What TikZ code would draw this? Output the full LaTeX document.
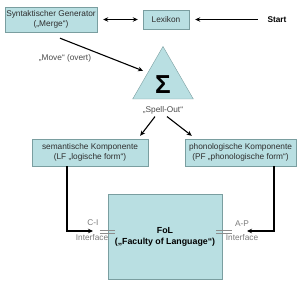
\documentclass[tikz,border=0pt]{standalone}
\usepackage{fontspec}
\setmainfont{Liberation Sans}
\usepackage{tikz}
\usetikzlibrary{positioning,arrows.meta,shapes.geometric,calc}
\definecolor{fboxfill}{HTML}{B9DFE2}
\definecolor{fboxline}{HTML}{7A9EA0}
\definecolor{ftext}{HTML}{2E2E2E}
\definecolor{flabeltext}{HTML}{4A4A4A}
\definecolor{fifacetext}{HTML}{7A7A7A}
\definecolor{fifaceline}{HTML}{8C8C8C}
\tikzset{fbox/.style={rectangle, draw=fboxline, fill=fboxfill, inner sep=1pt, align=center, font=\fontsize{8.3}{9.6}\selectfont, text=ftext}}
\tikzset{fedge/.style={-{Stealth[length=5pt, width=4.5pt]}, line width=1.1pt, draw=black}}
\tikzset{flabel/.style={font=\fontsize{8.3}{9.6}\selectfont, text=flabeltext, inner sep=1pt, align=center}}
\tikzset{fiflabel/.style={flabel, text=fifacetext}}
\tikzset{fiface/.style={draw=fifaceline, line width=0.8pt}}

\begin{document}
\begin{tikzpicture}[x=1pt, y=-1pt]
  \useasboundingbox (0,0) rectangle (300,286);

  \node[fbox, minimum width=92pt, minimum height=25pt] (gen) at (51,19.5) {Syntaktischer Generator\\(„Merge“)};
  \node[fbox, minimum width=46pt, minimum height=19pt] (lex) at (166,19.5) {Lexikon};
  \node[font=\bfseries\fontsize{8.3}{9.6}\selectfont, inner sep=1pt] (start) at (277,19.5) {Start};

  \node[regular polygon, regular polygon sides=3, minimum size=70pt, inner sep=0pt, draw=fboxline, fill=fboxfill, font=\bfseries\fontsize{26}{26}\selectfont, text height=24.6pt, text depth=0pt] (sigma) at (163,81.5) {Σ};
  \node[flabel] (spell) at (163,110) {„Spell-Out“};
  \node[flabel] (movelab) at (65,58) {„Move“ (overt)};

  \node[fbox, minimum width=116pt, minimum height=27pt] (sem) at (90,152.5) {semantische Komponente\\(LF „logische form“)};
  \node[fbox, minimum width=111pt, minimum height=27pt] (pho) at (240.5,152.5) {phonologische Komponente\\(PF „phonologische form“)};

  \node[fbox, minimum width=114pt, minimum height=85pt, font=\bfseries\fontsize{8.8}{11}\selectfont, text=black] (fol) at (165,236.5) {FoL\\(„Faculty of Language“)};

  \node[fiflabel] (cilab) at (93,223) {C-I};
  \node[fiflabel] (ciface) at (92,238) {Interface};
  \node[fiflabel] (aplab) at (242,224) {A-P};
  \node[fiflabel] (apface) at (242,238) {Interface};
  \coordinate (ciend) at (93,231);
  \coordinate (apend) at (247,231);

  % arrows
  \draw[fedge, {Stealth[length=5pt, width=4.5pt]}-{Stealth[length=5pt, width=4.5pt]}, shorten <=6pt, shorten >=5pt] (gen) -- (lex);
  \draw[fedge, shorten <=8.5pt, shorten >=6pt] (start) -- (lex);
  \draw[fedge, shorten >=5pt] ([shift={(9,6)}]gen.south) -- (sigma.side 1);
  \draw[fedge] ([shift={(-8,1.5)}]spell.south) -- ([shift={(-8,-3)}]sem.north east);
  \draw[fedge] ([shift={(4,1.5)}]spell.south) -- ([shift={(7,-3)}]pho.north west);
  \draw[fedge] ([shift={(-23,0)}]sem.south) |- (ciend);
  \draw[fedge] ([shift={(33.5,0)}]pho.south) |- (apend);

  % interface marks
  \draw[fiface] ([shift={(-8,-6)}]fol.west) -- ++(15,0);
  \draw[fiface] ([shift={(-8,-3)}]fol.west) -- ++(15,0);
  \draw[fiface] ([shift={(-6,-6)}]fol.east) -- ++(16,0);
  \draw[fiface] ([shift={(-6,-3)}]fol.east) -- ++(16,0);
\end{tikzpicture}
\end{document}
